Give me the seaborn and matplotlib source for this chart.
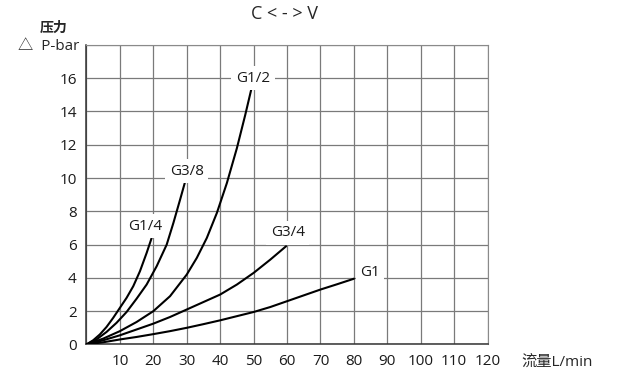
import matplotlib
matplotlib.use("Agg")
import matplotlib.pyplot as plt
import seaborn as sns
import pandas as pd

# flow (L/min) vs pressure drop (bar)
g14_x = [0, 2, 4, 6, 8, 10, 12, 14, 16, 18, 19.5]
g14_y = [0, 0.25, 0.6, 1.05, 1.6, 2.2, 2.8, 3.5, 4.4, 5.5, 6.4]
g38_x = [0, 3, 6, 9, 12, 15, 18, 21, 24, 26, 28, 29.4]
g38_y = [0, 0.3, 0.75, 1.3, 1.95, 2.75, 3.6, 4.7, 6.0, 7.3, 8.7, 9.7]
g12_x = [0, 5, 10, 15, 20, 25, 30, 33, 36, 39, 42, 45, 47.5, 49.5]
g12_y = [0, 0.35, 0.8, 1.35, 2.0, 2.9, 4.2, 5.2, 6.4, 7.9, 9.7, 11.8, 13.8, 15.5]
g34_x = [0, 5, 10, 15, 20, 25, 30, 35, 40, 45, 50, 55, 59.7]
g34_y = [0, 0.25, 0.55, 0.9, 1.25, 1.65, 2.1, 2.55, 3.0, 3.6, 4.3, 5.1, 5.9]
g1_x = [0, 5, 10, 15, 20, 25, 30, 35, 40, 45, 50, 55, 60, 65, 70, 75, 80]
g1_y = [0, 0.13, 0.3, 0.45, 0.62, 0.8, 1.0, 1.22, 1.45, 1.7, 1.95, 2.25, 2.6, 2.95, 3.3, 3.62, 3.95]

labels = ["G1/4", "G3/8", "G1/2", "G3/4", "G1"]
label_pos = [(17.7, 7.1), (30, 10.4), (49.8, 16), (60.2, 6.7), (84.8, 4.3)]
x_ticks = [10, 20, 30, 40, 50, 60, 70, 80, 90, 100, 110, 120]
y_ticks = [0, 2, 4, 6, 8, 10, 12, 14, 16]

rows = []
for name, xs, ys in zip(labels, [g14_x, g38_x, g12_x, g34_x, g1_x],
                        [g14_y, g38_y, g12_y, g34_y, g1_y]):
    for x, y in zip(xs, ys):
        rows.append({"size": name, "flow": x, "dp": y})
df = pd.DataFrame(rows)

sns.set_style("white")
plt.rcParams["font.family"] = ["Open Sans", "Noto Sans CJK SC", "DejaVu Sans"]

fig = plt.figure(figsize=(6.22, 3.84), dpi=100)
ax = fig.add_axes([0.139, 0.103, 0.645, 0.780])

sns.lineplot(data=df, x="flow", y="dp", units="size", estimator=None,
             sort=False, color="black", linewidth=1.5, ax=ax, zorder=3)

ax.set_xlim(0, 120)
ax.set_ylim(0, 18)
ax.set_xticks(range(0, 121, 10))
ax.set_xticklabels([""] + [str(t) for t in x_ticks], fontsize=11)
ax.set_yticks(range(0, 19, 2))
ax.set_yticklabels([str(t) for t in y_ticks] + [""], fontsize=11)
ax.tick_params(length=0, pad=7, colors="#1a1a1a")
ax.grid(True, color="#7a7a7a", linewidth=0.9)
ax.set_xlabel("")
ax.set_ylabel("")
for side in ["top", "right"]:
    ax.spines[side].set_color("#8a8a8a")
for side in ["left", "bottom"]:
    ax.spines[side].set_color("#333333")
    ax.spines[side].set_linewidth(1.1)

for name, (x, y) in zip(labels, label_pos):
    ax.text(x, y, name, fontsize=11, ha="center", va="center", zorder=4,
            color="#1a1a1a",
            bbox=dict(boxstyle="square,pad=0.3", facecolor="white", edgecolor="none"))

fig.text(0.458, 0.963, "C < - > V", fontsize=13, ha="center", va="center")
fig.text(0.087, 0.927, "压力", fontsize=10, ha="center", va="center", fontweight="bold")
fig.text(0.078, 0.878, "△  P-bar", fontsize=11, ha="center", va="center")
fig.text(0.896, 0.057, "流量L/min", fontsize=11, ha="center", va="center")

fig.savefig("out.png", dpi=100)
